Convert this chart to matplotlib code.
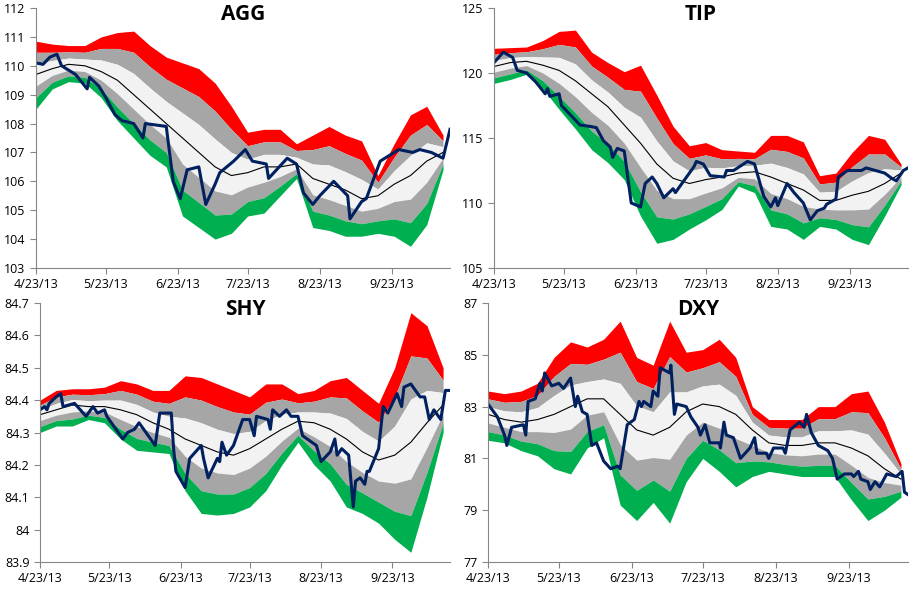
import numpy as np
import matplotlib
matplotlib.use("Agg")
import matplotlib.pyplot as plt
import pandas as pd

plt.rcParams['font.family'] = ['Open Sans', 'DejaVu Sans']

start = pd.Timestamp("2013-04-23")
grid = np.arange(0, 176, 7)

panels = {
    "AGG": dict(
        ylim=(103, 112), yticks=np.arange(103, 113, 1), fmt="{:.0f}",
        top=[110.85, 110.75, 110.7, 110.7, 111.0, 111.15, 111.2, 110.7, 110.3, 110.1, 109.9, 109.4, 108.6,
             107.7, 107.8, 107.8, 107.3, 107.6, 107.9, 107.6, 107.4, 106.2, 107.3, 108.3, 108.6, 107.6],
        bot=[108.5, 109.2, 109.45, 109.4, 108.9, 108.1, 107.5, 106.9, 106.5, 104.8, 104.4, 104.0, 104.2,
             104.8, 104.9, 105.5, 106.1, 104.4, 104.3, 104.1, 104.1, 104.2, 104.1, 103.75, 104.5, 106.4],
        mid=[109.7, 109.9, 110.05, 110.0, 109.8, 109.5, 109.0, 108.5, 108.0, 107.5, 107.0, 106.5, 106.2,
             106.3, 106.5, 106.5, 106.6, 106.1, 105.9, 105.7, 105.4, 105.5, 105.9, 106.2, 106.7, 107.0],
        pday=[0, 3, 6, 9, 11, 17, 22, 23, 27, 30, 34, 37, 42, 46, 47, 56, 59, 62, 65, 70, 73, 77, 79, 85,
              90, 93, 99, 100, 108, 112, 115, 119, 122, 128, 134, 135, 140, 142, 148, 156, 162, 165, 170, 175, 178],
        price=[110.1, 110.05, 110.3, 110.4, 110.0, 109.7, 109.2, 109.6, 109.3, 108.9, 108.3, 108.1, 108.0,
               107.5, 108.0, 107.9, 106.0, 105.4, 106.4, 106.5, 105.2, 105.9, 106.3, 106.7, 107.1, 106.7,
               106.6, 106.1, 106.8, 106.6, 105.6, 105.2, 105.5, 106.0, 105.5, 104.7, 105.3, 105.4, 106.7,
               107.1, 107.0, 107.1, 107.0, 106.8, 107.8],
        rect=[36, 8, 450, 268]),
    "TIP": dict(
        ylim=(105, 125), yticks=np.arange(105, 126, 5), fmt="{:.0f}",
        top=[121.9, 121.95, 122.0, 122.5, 123.2, 123.3, 121.6, 120.8, 120.1, 120.6, 118.3, 115.9, 114.4,
             114.65, 114.1, 114.0, 113.9, 115.2, 115.2, 114.7, 112.1, 112.3, 113.9, 115.2, 114.9, 113.0],
        bot=[119.2, 119.5, 119.9, 118.8, 117.2, 115.7, 114.1, 113.1, 111.8, 109.0, 106.9, 107.2, 108.0,
             108.7, 109.5, 111.3, 110.8, 108.2, 108.0, 107.2, 108.2, 108.0, 107.2, 106.8, 109.0, 111.4],
        mid=[120.5, 120.8, 120.9, 120.6, 120.2, 119.4, 118.4, 117.4, 116.0, 114.6, 113.0, 111.9, 111.5,
             111.8, 112.0, 112.3, 112.4, 112.0, 111.5, 111.0, 110.2, 110.2, 110.6, 110.9, 111.5, 112.3],
        pday=[0, 4, 8, 10, 14, 18, 22, 23, 24, 28, 29, 37, 41, 44, 47, 50, 51, 53, 56, 59, 63, 65, 68, 70,
              73, 77, 78, 82, 86, 87, 90, 93, 99, 100, 103, 109, 112, 116, 119, 121, 122, 126, 129, 133,
              136, 139, 142, 143, 147, 148, 152, 158, 160, 168, 171, 173, 176, 178],
        price=[120.8, 121.6, 121.2, 120.2, 120.0, 119.3, 118.4, 118.8, 118.2, 118.4, 117.5, 116.0, 115.9,
               115.8, 114.8, 114.3, 113.5, 114.2, 114.0, 110.0, 109.7, 111.5, 112.0, 111.5, 110.4, 111.1,
               110.8, 111.8, 112.8, 113.2, 113.0, 112.1, 112.0, 112.5, 112.5, 113.2, 113.0, 110.5, 109.7,
               110.4, 109.8, 111.5, 110.8, 110.0, 108.7, 109.4, 109.6, 109.9, 110.3, 112.0, 112.5, 112.5,
               112.7, 112.3, 111.9, 111.7, 112.5, 112.7],
        rect=[494, 8, 908, 268]),
    "SHY": dict(
        ylim=(83.9, 84.7), yticks=np.arange(83.9, 84.71, 0.1), fmt="{:g}",
        top=[84.40, 84.43, 84.435, 84.435, 84.44, 84.46, 84.45, 84.43, 84.43, 84.475, 84.47, 84.45, 84.43,
             84.41, 84.45, 84.45, 84.42, 84.43, 84.46, 84.47, 84.43, 84.39, 84.50, 84.67, 84.63, 84.50],
        bot=[84.30, 84.32, 84.32, 84.34, 84.33, 84.28, 84.245, 84.24, 84.235, 84.12, 84.05, 84.045, 84.05,
             84.07, 84.12, 84.20, 84.27, 84.20, 84.15, 84.07, 84.05, 84.02, 83.97, 83.93, 84.10, 84.30],
        mid=[84.355, 84.37, 84.385, 84.38, 84.38, 84.37, 84.355, 84.33, 84.31, 84.28, 84.26, 84.24, 84.23,
             84.25, 84.28, 84.31, 84.335, 84.33, 84.31, 84.28, 84.24, 84.215, 84.23, 84.27, 84.33, 84.385],
        pday=[0, 2, 3, 4, 7, 9, 10, 15, 20, 23, 25, 28, 29, 32, 36, 38, 41, 43, 46, 50, 52, 57, 58, 59, 63,
              65, 70, 71, 73, 77, 78, 79, 81, 84, 86, 88, 91, 93, 94, 99, 100, 101, 104, 107, 109, 112, 114,
              116, 120, 122, 126, 128, 129, 131, 134, 136, 137, 139, 141, 142, 143, 147, 149, 151, 155, 157,
              158, 161, 165, 167, 169, 171, 174, 176, 178],
        price=[84.37, 84.38, 84.37, 84.39, 84.41, 84.42, 84.38, 84.39, 84.35, 84.38, 84.36, 84.37, 84.35,
               84.32, 84.28, 84.30, 84.31, 84.33, 84.30, 84.26, 84.36, 84.36, 84.25, 84.18, 84.13, 84.22,
               84.26, 84.22, 84.16, 84.22, 84.21, 84.27, 84.23, 84.26, 84.30, 84.34, 84.34, 84.29, 84.35,
               84.34, 84.31, 84.37, 84.35, 84.37, 84.35, 84.35, 84.29, 84.28, 84.26, 84.21, 84.24, 84.28,
               84.23, 84.25, 84.23, 84.07, 84.15, 84.16, 84.14, 84.18, 84.18, 84.25, 84.38, 84.36, 84.42,
               84.38, 84.44, 84.45, 84.41, 84.41, 84.34, 84.37, 84.34, 84.43, 84.43],
        rect=[40, 303, 450, 562]),
    "DXY": dict(
        ylim=(77, 87), yticks=np.arange(77, 88, 2), fmt="{:.0f}",
        top=[83.6, 83.5, 83.6, 83.9, 84.9, 85.5, 85.3, 85.6, 86.3, 84.9, 84.6, 86.3, 85.1,
             85.2, 85.6, 84.9, 83.0, 82.5, 82.5, 82.5, 83.0, 83.0, 83.5, 83.6, 82.4, 80.8],
        bot=[81.7, 81.6, 81.3, 81.1, 80.6, 80.4, 81.4, 81.8, 79.2, 78.6, 79.3, 78.5, 80.1,
             81.0, 80.5, 79.9, 80.3, 80.5, 80.4, 80.3, 80.3, 80.3, 79.4, 78.6, 79.0, 79.5],
        mid=[82.7, 82.5, 82.4, 82.5, 82.7, 83.0, 83.3, 83.3, 82.7, 82.1, 81.9, 82.2, 82.8,
             83.1, 83.0, 82.7, 82.1, 81.6, 81.5, 81.5, 81.6, 81.6, 81.4, 81.1, 80.6, 80.2],
        pday=[0, 4, 7, 8, 10, 15, 16, 17, 20, 22, 23, 24, 27, 30, 32, 35, 37, 38, 40, 42, 44, 46, 49, 52,
              55, 56, 59, 62, 64, 65, 66, 69, 70, 72, 73, 77, 77.5, 79, 80, 84, 86, 89, 90, 92, 94, 98, 98.5,
              100, 101, 104, 107, 110, 111, 113, 114, 118, 119, 121, 125, 126, 128, 132, 134, 135, 137, 140,
              144, 146, 148, 151, 154, 155, 157, 158, 161, 162, 164, 166, 169, 173, 175.5, 176.5, 178],
        price=[83.1, 82.6, 81.9, 81.5, 82.2, 82.3, 81.9, 83.2, 83.3, 83.9, 83.6, 84.3, 83.8, 83.9, 83.7,
               84.1, 83.0, 83.4, 82.8, 82.7, 81.5, 81.6, 80.9, 80.6, 80.7, 80.6, 82.3, 82.5, 83.2, 83.0,
               83.2, 83.0, 83.6, 83.4, 84.5, 84.3, 84.6, 82.7, 83.1, 83.0, 82.6, 82.2, 81.9, 82.3, 81.6,
               81.6, 81.4, 82.4, 81.9, 81.8, 81.0, 81.3, 81.4, 81.8, 81.2, 81.2, 81.0, 81.4, 81.4, 81.2,
               82.1, 82.4, 82.2, 82.7, 82.0, 81.5, 81.3, 81.0, 80.2, 80.4, 80.4, 80.3, 80.5, 80.2, 80.1,
               79.8, 80.1, 79.9, 80.4, 80.3, 80.5, 79.7, 79.6],
        rect=[488, 303, 908, 562]),
}

W, H = 912, 590
fig = plt.figure(figsize=(W / 100, H / 100), dpi=100)

for name, p in panels.items():
    x0, y0, x1, y1 = p["rect"]
    ax = fig.add_axes([x0 / W, 1 - y1 / H, (x1 - x0) / W, (y1 - y0) / H])
    top = np.array(p["top"])
    bot = np.array(p["bot"])
    mid = np.array(p["mid"])
    up = (top - mid) / 3
    dn = (mid - bot) / 3
    ax.fill_between(grid, mid + 2 * up, top, color="#ff0000", lw=0)
    ax.fill_between(grid, mid + up, mid + 2 * up, color="#a6a6a6", lw=0)
    ax.fill_between(grid, mid, mid + up, color="#f2f2f2", lw=0)
    ax.fill_between(grid, mid - dn, mid, color="#f2f2f2", lw=0)
    ax.fill_between(grid, mid - 2 * dn, mid - dn, color="#a6a6a6", lw=0)
    ax.fill_between(grid, bot, mid - 2 * dn, color="#00b050", lw=0)
    ax.plot(grid, mid, color="black", lw=0.8)
    ax.plot(p["pday"], p["price"], color="#002060", lw=2.2)

    ax.set_xlim(0, 178)
    ax.set_ylim(*p["ylim"])
    ax.set_yticks(p["yticks"])
    ax.set_yticklabels([p["fmt"].format(round(v, 1)) for v in p["yticks"]], fontsize=9)
    ticks = [(pd.Timestamp(f"2013-{m}-23") - start).days for m in range(4, 10)]
    ax.set_xticks(ticks)
    ax.set_xticklabels([f"{m}/23/13" for m in range(4, 10)], fontsize=9)
    for s in ["top", "right"]:
        ax.spines[s].set_visible(False)
    for s in ["left", "bottom"]:
        ax.spines[s].set_color("#868686")
    ax.tick_params(colors="#868686", labelcolor="black", length=4)
    ax.set_title(name, fontsize=15, fontweight="bold", y=0.92)

fig.savefig("out.png", dpi=100)
